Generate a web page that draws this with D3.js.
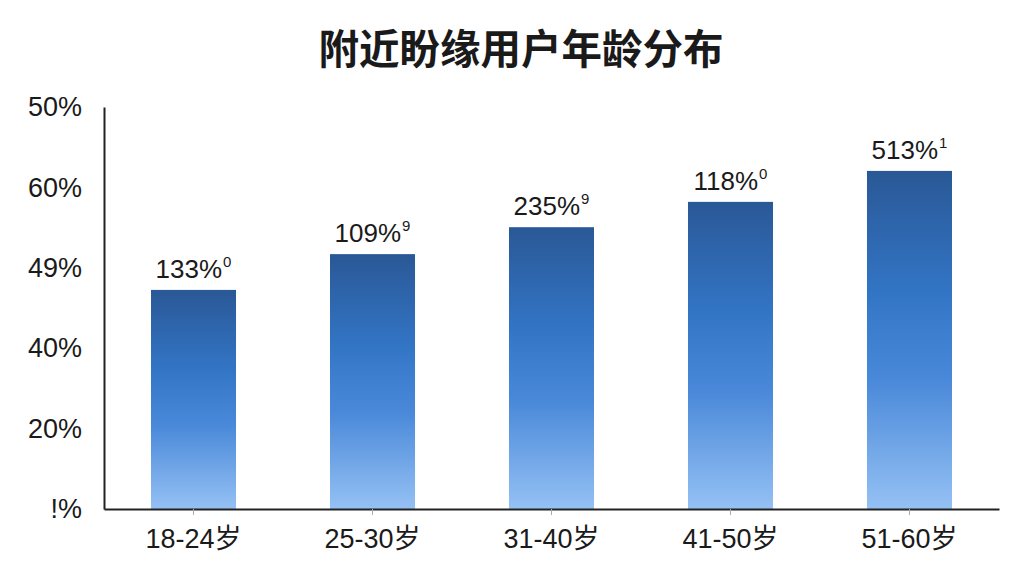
<!DOCTYPE html>
<html>
<head>
<meta charset="utf-8">
<script src="https://cdn.jsdelivr.net/npm/d3@7"></script>
<style>
  html, body { margin: 0; padding: 0; background: #ffffff; }
  svg { display: block; }
</style>
</head>
<body>
<svg id="chart" width="1024" height="576"></svg>
<script>
const title = "附近盼缘用户年龄分布";
const categories = ["18-24岁", "25-30岁", "31-40岁", "41-50岁", "51-60岁"];
const values = [54.5, 63.4, 70.1, 76.4, 84.1];
const valueLabels = ["133%", "109%", "235%", "118%", "513%"];
const valueSups = ["0", "9", "9", "0", "1"];
const tickValues = [0, 20, 40, 60, 80, 100];
const tickLabels = ["!%", "20%", "40%", "49%", "60%", "50%"];

(function () {
const svg = d3.select("#chart");
const mLeft = 104, mRight = 999, mTop = 107, mBottom = 509;
const font = "'Liberation Sans', Arial, 'Noto Sans CJK SC', sans-serif";

const x = d3.scaleBand().domain(categories).range([mLeft, mRight]).paddingInner(0.525).paddingOuter(0.2626);
const y = d3.scaleLinear().domain([0, 100]).range([mBottom, mTop]);

const defs = svg.append("defs");
const grad = defs.append("linearGradient").attr("id", "barGrad").attr("x1", 0).attr("y1", 0).attr("x2", 0).attr("y2", 1);
grad.append("stop").attr("offset", "0%").attr("stop-color", "#2a5896");
grad.append("stop").attr("offset", "35%").attr("stop-color", "#3274c4");
grad.append("stop").attr("offset", "62%").attr("stop-color", "#4a89d9");
grad.append("stop").attr("offset", "100%").attr("stop-color", "#95c1f4");

// title
svg.append("text")
  .attr("x", 521).attr("y", 64)
  .attr("text-anchor", "middle")
  .attr("font-family", "'Noto Sans CJK SC', sans-serif")
  .attr("font-weight", 600)
  .attr("font-size", 40.5)
  .attr("fill", "#1a1a1a")
  .text(title);

// bars
svg.append("g").selectAll("rect").data(values).join("rect")
  .attr("x", (d, i) => x(categories[i]))
  .attr("y", d => y(d))
  .attr("width", x.bandwidth())
  .attr("height", d => y(0) - y(d))
  .attr("fill", "url(#barGrad)");

// value labels
const lbl = svg.append("g").selectAll("text").data(values).join("text")
  .attr("x", (d, i) => x(categories[i]) + x.bandwidth() / 2)
  .attr("y", d => y(d) - 12)
  .attr("text-anchor", "middle")
  .attr("font-family", font)
  .attr("font-size", 26)
  .attr("fill", "#1a1a1a");
lbl.append("tspan").text((d, i) => valueLabels[i]);
lbl.append("tspan").attr("font-size", 15).attr("dy", -11).attr("dx", 1).text((d, i) => valueSups[i]);

// y axis
const yAxis = svg.append("g").attr("transform", `translate(${mLeft},0)`)
  .call(d3.axisLeft(y).tickValues(tickValues).tickFormat((d, i) => tickLabels[i]).tickSize(0).tickPadding(22));
yAxis.select(".domain").attr("stroke", "#222").attr("stroke-width", 2);
yAxis.selectAll("text").attr("font-family", font).attr("font-size", 27).attr("fill", "#1a1a1a");

// x axis
const xAxis = svg.append("g").attr("transform", `translate(0,${mBottom})`)
  .call(d3.axisBottom(x).tickSize(6).tickSizeOuter(0).tickPadding(14));
xAxis.select(".domain").attr("stroke", "#222").attr("stroke-width", 2);
xAxis.selectAll(".tick line").attr("stroke", "#aaa");
xAxis.selectAll("text").attr("font-family", font).attr("font-size", 27).attr("fill", "#1a1a1a");
})();
</script>
</body>
</html>
